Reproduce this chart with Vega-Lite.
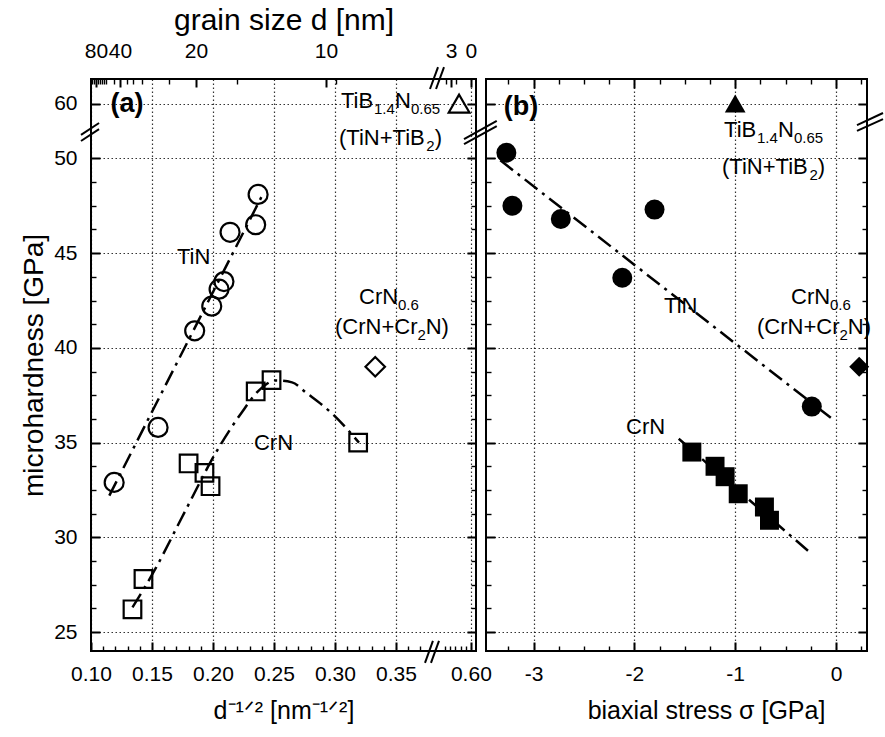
{
  "$schema": "https://vega.github.io/schema/vega-lite/v6.json",
  "background": "white",
  "autosize": {"type": "pad"},
  "padding": {"left": 19, "top": 4, "right": 5, "bottom": 5},
  "spacing": 10,
  "bounds": "flush",
  "resolve": {"scale": {"x": "independent", "y": "independent"}},
  "datasets": {
    "tin_a": [{"x":0.237,"y":48.1},{"x":0.235,"y":46.5},{"x":0.214,"y":46.1},{"x":0.209,"y":43.5},{"x":0.205,"y":43.1},{"x":0.199,"y":42.2},{"x":0.185,"y":40.9},{"x":0.155,"y":35.8},{"x":0.119,"y":32.9}],
    "crn_a": [{"x":0.235,"y":37.7},{"x":0.248,"y":38.3},{"x":0.319,"y":35.0},{"x":0.180,"y":33.9},{"x":0.193,"y":33.4},{"x":0.198,"y":32.7},{"x":0.143,"y":27.8},{"x":0.134,"y":26.2}],
    "tin_a_fit": [{"x":0.115,"y":32.2},{"x":0.240,"y":48.0}],
    "crn_a_fit": [{"x":0.134,"y":26.3},{"x":0.1533,"y":28.4},{"x":0.1746,"y":31.06},{"x":0.2049,"y":34.75},{"x":0.2230,"y":36.54},{"x":0.2377,"y":37.76},{"x":0.2516,"y":38.28},{"x":0.2648,"y":38.18},{"x":0.2770,"y":37.6},{"x":0.2975,"y":36.54},{"x":0.3197,"y":35.0}],
    "tib_a": [{"x":0.577,"y":60}],
    "crn06_a": [{"x":0.333,"y":39.0}],
    "main_a": [
      {"x":0.3049,"y":60.13,"text":"TiB"},
      {"x":0.3492,"y":60.13,"text":"N"},
      {"x":0.3033,"y":51.08,"text":"(TiN+TiB"},
      {"x":0.3817,"y":51.08,"text":")"},
      {"x":0.1705,"y":44.78,"text":"TiN"},
      {"x":0.2336,"y":34.96,"text":"CrN"},
      {"x":0.3197,"y":42.67,"text":"CrN"},
      {"x":0.300,"y":41.08,"text":"(CrN+Cr"},
      {"x":0.3744,"y":41.08,"text":"N)"}
    ],
    "sub_a": [
      {"x":0.3320,"y":60.13,"text":"1.4"},
      {"x":0.3623,"y":60.13,"text":"0.65"},
      {"x":0.3749,"y":51.08,"text":"2"},
      {"x":0.3516,"y":42.67,"text":"0.6"},
      {"x":0.3676,"y":41.08,"text":"2"}
    ],
    "tag_a": [{"x":0.1295,"y":60,"text":"(a)"}],
    "brk_a": [
      {"x":0.3779,"y":60.77,"x2":0.5359,"y2":61.93},
      {"x":0.5320,"y":60.77,"x2":0.5476,"y2":61.93},
      {"x":0.3738,"y":23.37,"x2":0.3803,"y2":24.53},
      {"x":0.3787,"y":23.37,"x2":0.5378,"y2":24.53},
      {"x":0.0918,"y":50.92,"x2":0.1066,"y2":58.65},
      {"x":0.0918,"y":51.24,"x2":0.1066,"y2":58.97},
      {"x":0.5866,"y":50.76,"x2":0.6505,"y2":58.81},
      {"x":0.5866,"y":51.02,"x2":0.6505,"y2":59.08}
    ],
    "tin_b": [{"x":-3.27,"y":50.3},{"x":-3.21,"y":47.5},{"x":-2.73,"y":46.8},{"x":-1.80,"y":47.3},{"x":-2.12,"y":43.7},{"x":-0.24,"y":36.9}],
    "crn_b": [{"x":-1.43,"y":34.5},{"x":-1.20,"y":33.75},{"x":-1.10,"y":33.2},{"x":-0.97,"y":32.3},{"x":-0.71,"y":31.6},{"x":-0.66,"y":30.9}],
    "tin_b_fit": [{"x":-3.33,"y":49.9},{"x":-0.05,"y":36.3}],
    "crn_b_fit": [{"x":-1.56,"y":35.2},{"x":-0.25,"y":29.16}],
    "tib_b": [{"x":-1.0,"y":60}],
    "crn06_b": [{"x":0.23,"y":39.0}],
    "main_b": [
      {"x":-1.111,"y":55,"text":"TiB"},
      {"x":-0.575,"y":55,"text":"N"},
      {"x":-1.131,"y":49.53,"text":"(TiN+TiB"},
      {"x":-0.182,"y":49.53,"text":")"},
      {"x":-1.706,"y":42.19,"text":"TiN"},
      {"x":-2.083,"y":35.8,"text":"CrN"},
      {"x":-0.446,"y":42.67,"text":"CrN"},
      {"x":-0.784,"y":41.08,"text":"(CrN+Cr"},
      {"x":0.117,"y":41.08,"text":"N)"}
    ],
    "sub_b": [
      {"x":-0.784,"y":55,"text":"1.4"},
      {"x":-0.417,"y":55,"text":"0.65"},
      {"x":-0.264,"y":49.53,"text":"2"},
      {"x":-0.060,"y":42.67,"text":"0.6"},
      {"x":0.0347,"y":41.08,"text":"2"}
    ],
    "tag_b": [{"x":-3.125,"y":59.8,"text":"(b)"}],
    "brk_b": [
      {"x":0.2083,"y":58.86,"x2":0.4663,"y2":59.5},
      {"x":0.2083,"y":51.45,"x2":0.4663,"y2":59.18}
    ]
  },
  "hconcat": [
    {
      "width": 385,
      "height": 572,
      "resolve": {"axis": {"x": "independent", "y": "independent"}},
      "layer": [
        {
          "data": {"name": "tin_a_fit"},
          "mark": {"type": "line", "color": "#000", "strokeWidth": 2.5, "strokeDash": [16, 6, 3, 6]},
          "encoding": {
            "x": {"field": "x", "type": "quantitative", "scale": {"domain": [0.1, 0.382, 0.53, 0.61], "range": [0, 344, 344, 385], "nice": false, "zero": false},
                  "axis": {"orient": "bottom", "values": [0.1, 0.15, 0.2, 0.25, 0.3, 0.35, 0.6], "format": ".2f", "grid": true, "tickSize": -9, "labelPadding": 21, "labelFlush": false, "labelOverlap": false, "title": "d⁻¹ᐟ² [nm⁻¹ᐟ²]", "titlePadding": 14}},
            "y": {"field": "y", "type": "quantitative", "scale": {"domain": [24, 51.5, 58.6, 61.3], "range": [572, 51, 51, 0], "nice": false, "zero": false},
                  "axis": {"orient": "left", "values": [25, 30, 35, 40, 45, 50, 60], "grid": true, "tickSize": -9, "labelPadding": 23, "labelFlush": false, "labelOverlap": false, "title": "microhardness [GPa]", "titlePadding": 5, "titleFontSize": 28}}
          }
        },
        {
          "data": {"name": "crn_a_fit"},
          "mark": {"type": "line", "color": "#000", "strokeWidth": 2.5, "strokeDash": [16, 6, 3, 6], "interpolate": "monotone"},
          "encoding": {
            "x": {"field": "x", "type": "quantitative", "scale": {"domain": [0.1, 0.382, 0.53, 0.61], "range": [0, 344, 344, 385], "nice": false, "zero": false},
                  "axis": {"orient": "bottom", "values": [0.11,0.12,0.13,0.14,0.16,0.17,0.18,0.19,0.21,0.22,0.23,0.24,0.26,0.27,0.28,0.29,0.31,0.32,0.33,0.34,0.36,0.37,0.55,0.56,0.57,0.58,0.59], "labels": false, "grid": false, "tickSize": -5, "tickWidth": 1.4, "title": null}},
            "y": {"field": "y", "type": "quantitative", "scale": {"domain": [24, 51.5, 58.6, 61.3], "range": [572, 51, 51, 0], "nice": false, "zero": false},
                  "axis": {"orient": "left", "values": [26.25,27.5,28.75,31.25,32.5,33.75,36.25,37.5,38.75,41.25,42.5,43.75,46.25,47.5,48.75], "labels": false, "grid": false, "tickSize": -5, "tickWidth": 1.4, "title": null}}
          }
        },
        {
          "data": {"name": "tin_a"},
          "mark": {"type": "point", "shape": "circle", "filled": false, "color": "#000", "strokeWidth": 2.2, "size": 360, "opacity": 1},
          "encoding": {
            "x": {"field": "x", "type": "quantitative", "scale": {"domain": [0.1, 0.382, 0.53, 0.61], "range": [0, 344, 344, 385], "nice": false, "zero": false},
                  "axis": {"orient": "top", "values": [0.1041, 0.1238, 0.1861, 0.2926, 0.5612, 0.6], "labelExpr": "datum.value < 0.11 ? '80' : datum.value < 0.15 ? '40' : datum.value < 0.2 ? '20' : datum.value < 0.4 ? '10' : datum.value < 0.58 ? '3' : '0'", "grid": false, "tickSize": -8, "labelPadding": 26, "labelFlush": false, "labelOverlap": false, "title": "grain size d [nm]", "titlePadding": 5, "titleFontSize": 30}},
            "y": {"field": "y", "type": "quantitative", "scale": {"domain": [24, 51.5, 58.6, 61.3], "range": [572, 51, 51, 0], "nice": false, "zero": false},
                  "axis": {"orient": "right", "values": [25, 30, 35, 40, 45, 50, 60], "labels": false, "grid": false, "tickSize": -9, "title": null}}
          }
        },
        {
          "data": {"name": "crn_a"},
          "mark": {"type": "point", "shape": "square", "filled": false, "color": "#000", "strokeWidth": 2.2, "size": 310, "opacity": 1},
          "encoding": {
            "x": {"field": "x", "type": "quantitative", "scale": {"domain": [0.1, 0.382, 0.53, 0.61], "range": [0, 344, 344, 385], "nice": false, "zero": false},
                  "axis": {"orient": "top", "values": [0.1008,0.1025,0.1057,0.1074,0.109,0.1107,0.1123,0.1189,0.1295,0.1344,0.1418,0.1639,0.2197,0.3008,0.5515,0.571], "labels": false, "grid": false, "tickSize": -5, "tickWidth": 1.4, "title": null}},
            "y": {"field": "y", "type": "quantitative", "scale": {"domain": [24, 51.5, 58.6, 61.3], "range": [572, 51, 51, 0], "nice": false, "zero": false},
                  "axis": {"orient": "right", "values": [26.25,27.5,28.75,31.25,32.5,33.75,36.25,37.5,38.75,41.25,42.5,43.75,46.25,47.5,48.75], "labels": false, "grid": false, "tickSize": -5, "tickWidth": 1.4, "title": null}}
          }
        },
        {
          "data": {"name": "tib_a"},
          "mark": {"type": "point", "shape": "triangle-up", "filled": false, "color": "#000", "strokeWidth": 2.2, "size": 430, "opacity": 1},
          "encoding": {
            "x": {"field": "x", "type": "quantitative", "scale": {"domain": [0.1, 0.382, 0.53, 0.61], "range": [0, 344, 344, 385], "nice": false, "zero": false}, "axis": null},
            "y": {"field": "y", "type": "quantitative", "scale": {"domain": [24, 51.5, 58.6, 61.3], "range": [572, 51, 51, 0], "nice": false, "zero": false}, "axis": null}
          }
        },
        {
          "data": {"name": "crn06_a"},
          "mark": {"type": "point", "shape": "diamond", "filled": false, "color": "#000", "strokeWidth": 2.2, "size": 380, "opacity": 1},
          "encoding": {
            "x": {"field": "x", "type": "quantitative", "scale": {"domain": [0.1, 0.382, 0.53, 0.61], "range": [0, 344, 344, 385], "nice": false, "zero": false}, "axis": null},
            "y": {"field": "y", "type": "quantitative", "scale": {"domain": [24, 51.5, 58.6, 61.3], "range": [572, 51, 51, 0], "nice": false, "zero": false}, "axis": null}
          }
        },
        {
          "data": {"name": "main_a"},
          "mark": {"type": "text", "align": "left", "baseline": "middle", "fontSize": 22, "fill": "#000"},
          "encoding": {
            "x": {"field": "x", "type": "quantitative", "scale": {"domain": [0.1, 0.382, 0.53, 0.61], "range": [0, 344, 344, 385], "nice": false, "zero": false}, "axis": null},
            "y": {"field": "y", "type": "quantitative", "scale": {"domain": [24, 51.5, 58.6, 61.3], "range": [572, 51, 51, 0], "nice": false, "zero": false}, "axis": null},
            "text": {"field": "text"}
          }
        },
        {
          "data": {"name": "sub_a"},
          "mark": {"type": "text", "align": "left", "baseline": "middle", "fontSize": 15, "dy": 8, "fill": "#000"},
          "encoding": {
            "x": {"field": "x", "type": "quantitative", "scale": {"domain": [0.1, 0.382, 0.53, 0.61], "range": [0, 344, 344, 385], "nice": false, "zero": false}, "axis": null},
            "y": {"field": "y", "type": "quantitative", "scale": {"domain": [24, 51.5, 58.6, 61.3], "range": [572, 51, 51, 0], "nice": false, "zero": false}, "axis": null},
            "text": {"field": "text"}
          }
        },
        {
          "data": {"name": "tag_a"},
          "mark": {"type": "text", "align": "center", "baseline": "middle", "fontSize": 27, "fontWeight": "bold", "fill": "#000"},
          "encoding": {
            "x": {"field": "x", "type": "quantitative", "scale": {"domain": [0.1, 0.382, 0.53, 0.61], "range": [0, 344, 344, 385], "nice": false, "zero": false}, "axis": null},
            "y": {"field": "y", "type": "quantitative", "scale": {"domain": [24, 51.5, 58.6, 61.3], "range": [572, 51, 51, 0], "nice": false, "zero": false}, "axis": null},
            "text": {"field": "text"}
          }
        },
        {
          "data": {"name": "brk_a"},
          "mark": {"type": "rule", "color": "#000", "strokeWidth": 2, "clip": false},
          "encoding": {
            "x": {"field": "x", "type": "quantitative", "scale": {"domain": [0.1, 0.382, 0.53, 0.61], "range": [0, 344, 344, 385], "nice": false, "zero": false}, "axis": null},
            "y": {"field": "y", "type": "quantitative", "scale": {"domain": [24, 51.5, 58.6, 61.3], "range": [572, 51, 51, 0], "nice": false, "zero": false}, "axis": null},
            "x2": {"field": "x2"},
            "y2": {"field": "y2"}
          }
        }
      ]
    },
    {
      "width": 381,
      "height": 572,
      "resolve": {"axis": {"x": "independent", "y": "independent"}},
      "layer": [
        {
          "data": {"name": "tin_b_fit"},
          "mark": {"type": "line", "color": "#000", "strokeWidth": 2.5, "strokeDash": [16, 6, 3, 6]},
          "encoding": {
            "x": {"field": "x", "type": "quantitative", "scale": {"domain": [-3.472, 0.3075], "nice": false, "zero": false},
                  "axis": {"orient": "bottom", "values": [-3, -2, -1, 0], "labelExpr": "datum.value == 0 ? '0' : '-' + abs(datum.value)", "grid": true, "tickSize": -9, "labelPadding": 21, "labelFlush": false, "labelOverlap": false, "title": "biaxial stress σ [GPa]", "titlePadding": 14, "titleX": 220}},
            "y": {"field": "y", "type": "quantitative", "scale": {"domain": [24, 51.5, 58.6, 61.3], "range": [572, 51, 51, 0], "nice": false, "zero": false},
                  "axis": {"orient": "left", "values": [25, 30, 35, 40, 45, 50, 60], "labels": false, "grid": true, "tickSize": -9, "title": null}}
          }
        },
        {
          "data": {"name": "crn_b_fit"},
          "mark": {"type": "line", "color": "#000", "strokeWidth": 2.5, "strokeDash": [16, 6, 3, 6]},
          "encoding": {
            "x": {"field": "x", "type": "quantitative", "scale": {"domain": [-3.472, 0.3075], "nice": false, "zero": false},
                  "axis": {"orient": "bottom", "values": [-3.25,-2.75,-2.5,-2.25,-1.75,-1.5,-1.25,-0.75,-0.5,-0.25,0.25], "labels": false, "grid": false, "tickSize": -5, "tickWidth": 1.4, "title": null}},
            "y": {"field": "y", "type": "quantitative", "scale": {"domain": [24, 51.5, 58.6, 61.3], "range": [572, 51, 51, 0], "nice": false, "zero": false},
                  "axis": {"orient": "left", "values": [26.25,27.5,28.75,31.25,32.5,33.75,36.25,37.5,38.75,41.25,42.5,43.75,46.25,47.5,48.75], "labels": false, "grid": false, "tickSize": -5, "tickWidth": 1.4, "title": null}}
          }
        },
        {
          "data": {"name": "tin_b"},
          "mark": {"type": "point", "shape": "circle", "filled": true, "color": "#000", "size": 400, "opacity": 1},
          "encoding": {
            "x": {"field": "x", "type": "quantitative", "scale": {"domain": [-3.472, 0.3075], "nice": false, "zero": false},
                  "axis": {"orient": "top", "values": [-3, -2, -1, 0], "labels": false, "grid": false, "tickSize": -9, "title": null}},
            "y": {"field": "y", "type": "quantitative", "scale": {"domain": [24, 51.5, 58.6, 61.3], "range": [572, 51, 51, 0], "nice": false, "zero": false},
                  "axis": {"orient": "right", "values": [25, 30, 35, 40, 45, 50, 60], "labels": false, "grid": false, "tickSize": -9, "title": null}}
          }
        },
        {
          "data": {"name": "crn_b"},
          "mark": {"type": "point", "shape": "square", "filled": true, "color": "#000", "size": 360, "opacity": 1},
          "encoding": {
            "x": {"field": "x", "type": "quantitative", "scale": {"domain": [-3.472, 0.3075], "nice": false, "zero": false},
                  "axis": {"orient": "top", "values": [-3.25,-2.75,-2.5,-2.25,-1.75,-1.5,-1.25,-0.75,-0.5,-0.25,0.25], "labels": false, "grid": false, "tickSize": -5, "tickWidth": 1.4, "title": null}},
            "y": {"field": "y", "type": "quantitative", "scale": {"domain": [24, 51.5, 58.6, 61.3], "range": [572, 51, 51, 0], "nice": false, "zero": false},
                  "axis": {"orient": "right", "values": [26.25,27.5,28.75,31.25,32.5,33.75,36.25,37.5,38.75,41.25,42.5,43.75,46.25,47.5,48.75], "labels": false, "grid": false, "tickSize": -5, "tickWidth": 1.4, "title": null}}
          }
        },
        {
          "data": {"name": "tib_b"},
          "mark": {"type": "point", "shape": "triangle-up", "filled": true, "color": "#000", "size": 430, "opacity": 1},
          "encoding": {
            "x": {"field": "x", "type": "quantitative", "scale": {"domain": [-3.472, 0.3075], "nice": false, "zero": false}, "axis": null},
            "y": {"field": "y", "type": "quantitative", "scale": {"domain": [24, 51.5, 58.6, 61.3], "range": [572, 51, 51, 0], "nice": false, "zero": false}, "axis": null}
          }
        },
        {
          "data": {"name": "crn06_b"},
          "mark": {"type": "point", "shape": "diamond", "filled": true, "color": "#000", "size": 400, "opacity": 1},
          "encoding": {
            "x": {"field": "x", "type": "quantitative", "scale": {"domain": [-3.472, 0.3075], "nice": false, "zero": false}, "axis": null},
            "y": {"field": "y", "type": "quantitative", "scale": {"domain": [24, 51.5, 58.6, 61.3], "range": [572, 51, 51, 0], "nice": false, "zero": false}, "axis": null}
          }
        },
        {
          "data": {"name": "main_b"},
          "mark": {"type": "text", "align": "left", "baseline": "middle", "fontSize": 22, "fill": "#000"},
          "encoding": {
            "x": {"field": "x", "type": "quantitative", "scale": {"domain": [-3.472, 0.3075], "nice": false, "zero": false}, "axis": null},
            "y": {"field": "y", "type": "quantitative", "scale": {"domain": [24, 51.5, 58.6, 61.3], "range": [572, 51, 51, 0], "nice": false, "zero": false}, "axis": null},
            "text": {"field": "text"}
          }
        },
        {
          "data": {"name": "sub_b"},
          "mark": {"type": "text", "align": "left", "baseline": "middle", "fontSize": 15, "dy": 8, "fill": "#000"},
          "encoding": {
            "x": {"field": "x", "type": "quantitative", "scale": {"domain": [-3.472, 0.3075], "nice": false, "zero": false}, "axis": null},
            "y": {"field": "y", "type": "quantitative", "scale": {"domain": [24, 51.5, 58.6, 61.3], "range": [572, 51, 51, 0], "nice": false, "zero": false}, "axis": null},
            "text": {"field": "text"}
          }
        },
        {
          "data": {"name": "tag_b"},
          "mark": {"type": "text", "align": "center", "baseline": "middle", "fontSize": 27, "fontWeight": "bold", "fill": "#000"},
          "encoding": {
            "x": {"field": "x", "type": "quantitative", "scale": {"domain": [-3.472, 0.3075], "nice": false, "zero": false}, "axis": null},
            "y": {"field": "y", "type": "quantitative", "scale": {"domain": [24, 51.5, 58.6, 61.3], "range": [572, 51, 51, 0], "nice": false, "zero": false}, "axis": null},
            "text": {"field": "text"}
          }
        },
        {
          "data": {"name": "brk_b"},
          "mark": {"type": "rule", "color": "#000", "strokeWidth": 2, "clip": false},
          "encoding": {
            "x": {"field": "x", "type": "quantitative", "scale": {"domain": [-3.472, 0.3075], "nice": false, "zero": false}, "axis": null},
            "y": {"field": "y", "type": "quantitative", "scale": {"domain": [24, 51.5, 58.6, 61.3], "range": [572, 51, 51, 0], "nice": false, "zero": false}, "axis": null},
            "x2": {"field": "x2"},
            "y2": {"field": "y2"}
          }
        }
      ]
    }
  ],
  "config": {
    "font": "Liberation Sans",
    "view": {"stroke": "#000", "strokeWidth": 2},
    "text": {"font": "Liberation Sans"},
    "axis": {
      "domain": false,
      "labelFont": "Liberation Sans",
      "labelFontSize": 21,
      "labelColor": "#000",
      "titleFont": "Liberation Sans",
      "titleFontSize": 25,
      "titleFontWeight": "normal",
      "titleColor": "#000",
      "tickColor": "#000",
      "tickWidth": 2,
      "gridColor": "#000",
      "gridDash": [1.5, 2.5],
      "gridWidth": 1.2,
      "gridOpacity": 0.8
    }
  }
}
